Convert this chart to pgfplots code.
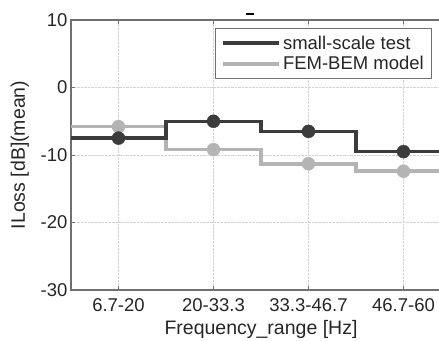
\documentclass[border=0pt]{standalone}
\usepackage{fontspec}
\setmainfont{Liberation Sans}
\usepackage{pgfplots}
\pgfplotsset{compat=1.18}
\definecolor{darkser}{HTML}{3C3C3C}
\definecolor{lightser}{HTML}{B4B4B4}
\definecolor{axcol}{HTML}{707070}
\begin{document}
\begin{tikzpicture}
\path[use as bounding box] (-71pt,-50pt) rectangle (368pt,290pt);
\clip (-71pt,-50pt) rectangle (368pt,290pt);
\begin{axis}[
 at={(0,0)}, anchor=south west,
 scale only axis, width=380pt, height=270pt,
 xmin=0.5, xmax=4.5, ymin=-30, ymax=10,
 xtick={1,2,3,4}, xticklabels={6.7-20,20-33.3,33.3-46.7,46.7-60},
 ytick={-30,-20,-10,0,10},
 grid=major, grid style={densely dotted, black!18},
 axis line style={axcol, line width=1.2pt},
 tick style={axcol, line width=0.8pt},
 major tick length=4pt,
 tick label style={font=\fontsize{18.5}{20}\selectfont, text=black!85},
 xticklabel style={yshift=-5pt},
 /pgf/number format/assume math mode=true,
 xlabel={Frequency\_range [Hz]}, ylabel={ILoss [dB](mean)},
 label style={font=\fontsize{19.5}{21}\selectfont, text=black!85},
 xlabel style={yshift=-2pt},
 ylabel style={yshift=5pt},
 title={\rule{8pt}{2.2pt}},
 title style={at={(0.47,1)}, yshift=-5pt},
 legend style={at={(0.379,0.97)}, anchor=north west, draw=axcol, line width=1pt,
   fill=white, font=\fontsize{18.5}{20}\selectfont, text=black!85,
   inner xsep=6pt, inner ysep=5pt, row sep=2pt},
 legend cell align=left,
 legend image code/.code={\draw[#1] (0pt,0pt) -- (56pt,0pt);},
]
\addlegendimage{darkser, line width=3.5pt}
\addlegendentry{small-scale test}
\addlegendimage{lightser, line width=3.5pt}
\addlegendentry{FEM-BEM model}
\addplot[const plot, lightser, line width=3.5pt, forget plot] coordinates {(0.5,-5.8)(1.5,-9.2)(2.5,-11.3)(3.5,-12.4)(4.5,-12.4)};
\addplot[only marks, mark=*, mark size=6.5pt, lightser, forget plot] coordinates {(1,-5.8)(2,-9.2)(3,-11.3)(4,-12.4)};
\addplot[const plot, darkser, line width=3.5pt, forget plot] coordinates {(0.5,-7.5)(1.5,-5)(2.5,-6.5)(3.5,-9.5)(4.5,-9.5)};
\addplot[only marks, mark=*, mark size=6.5pt, darkser, forget plot] coordinates {(1,-7.5)(2,-5)(3,-6.5)(4,-9.5)};
\end{axis}
\end{tikzpicture}
\end{document}
